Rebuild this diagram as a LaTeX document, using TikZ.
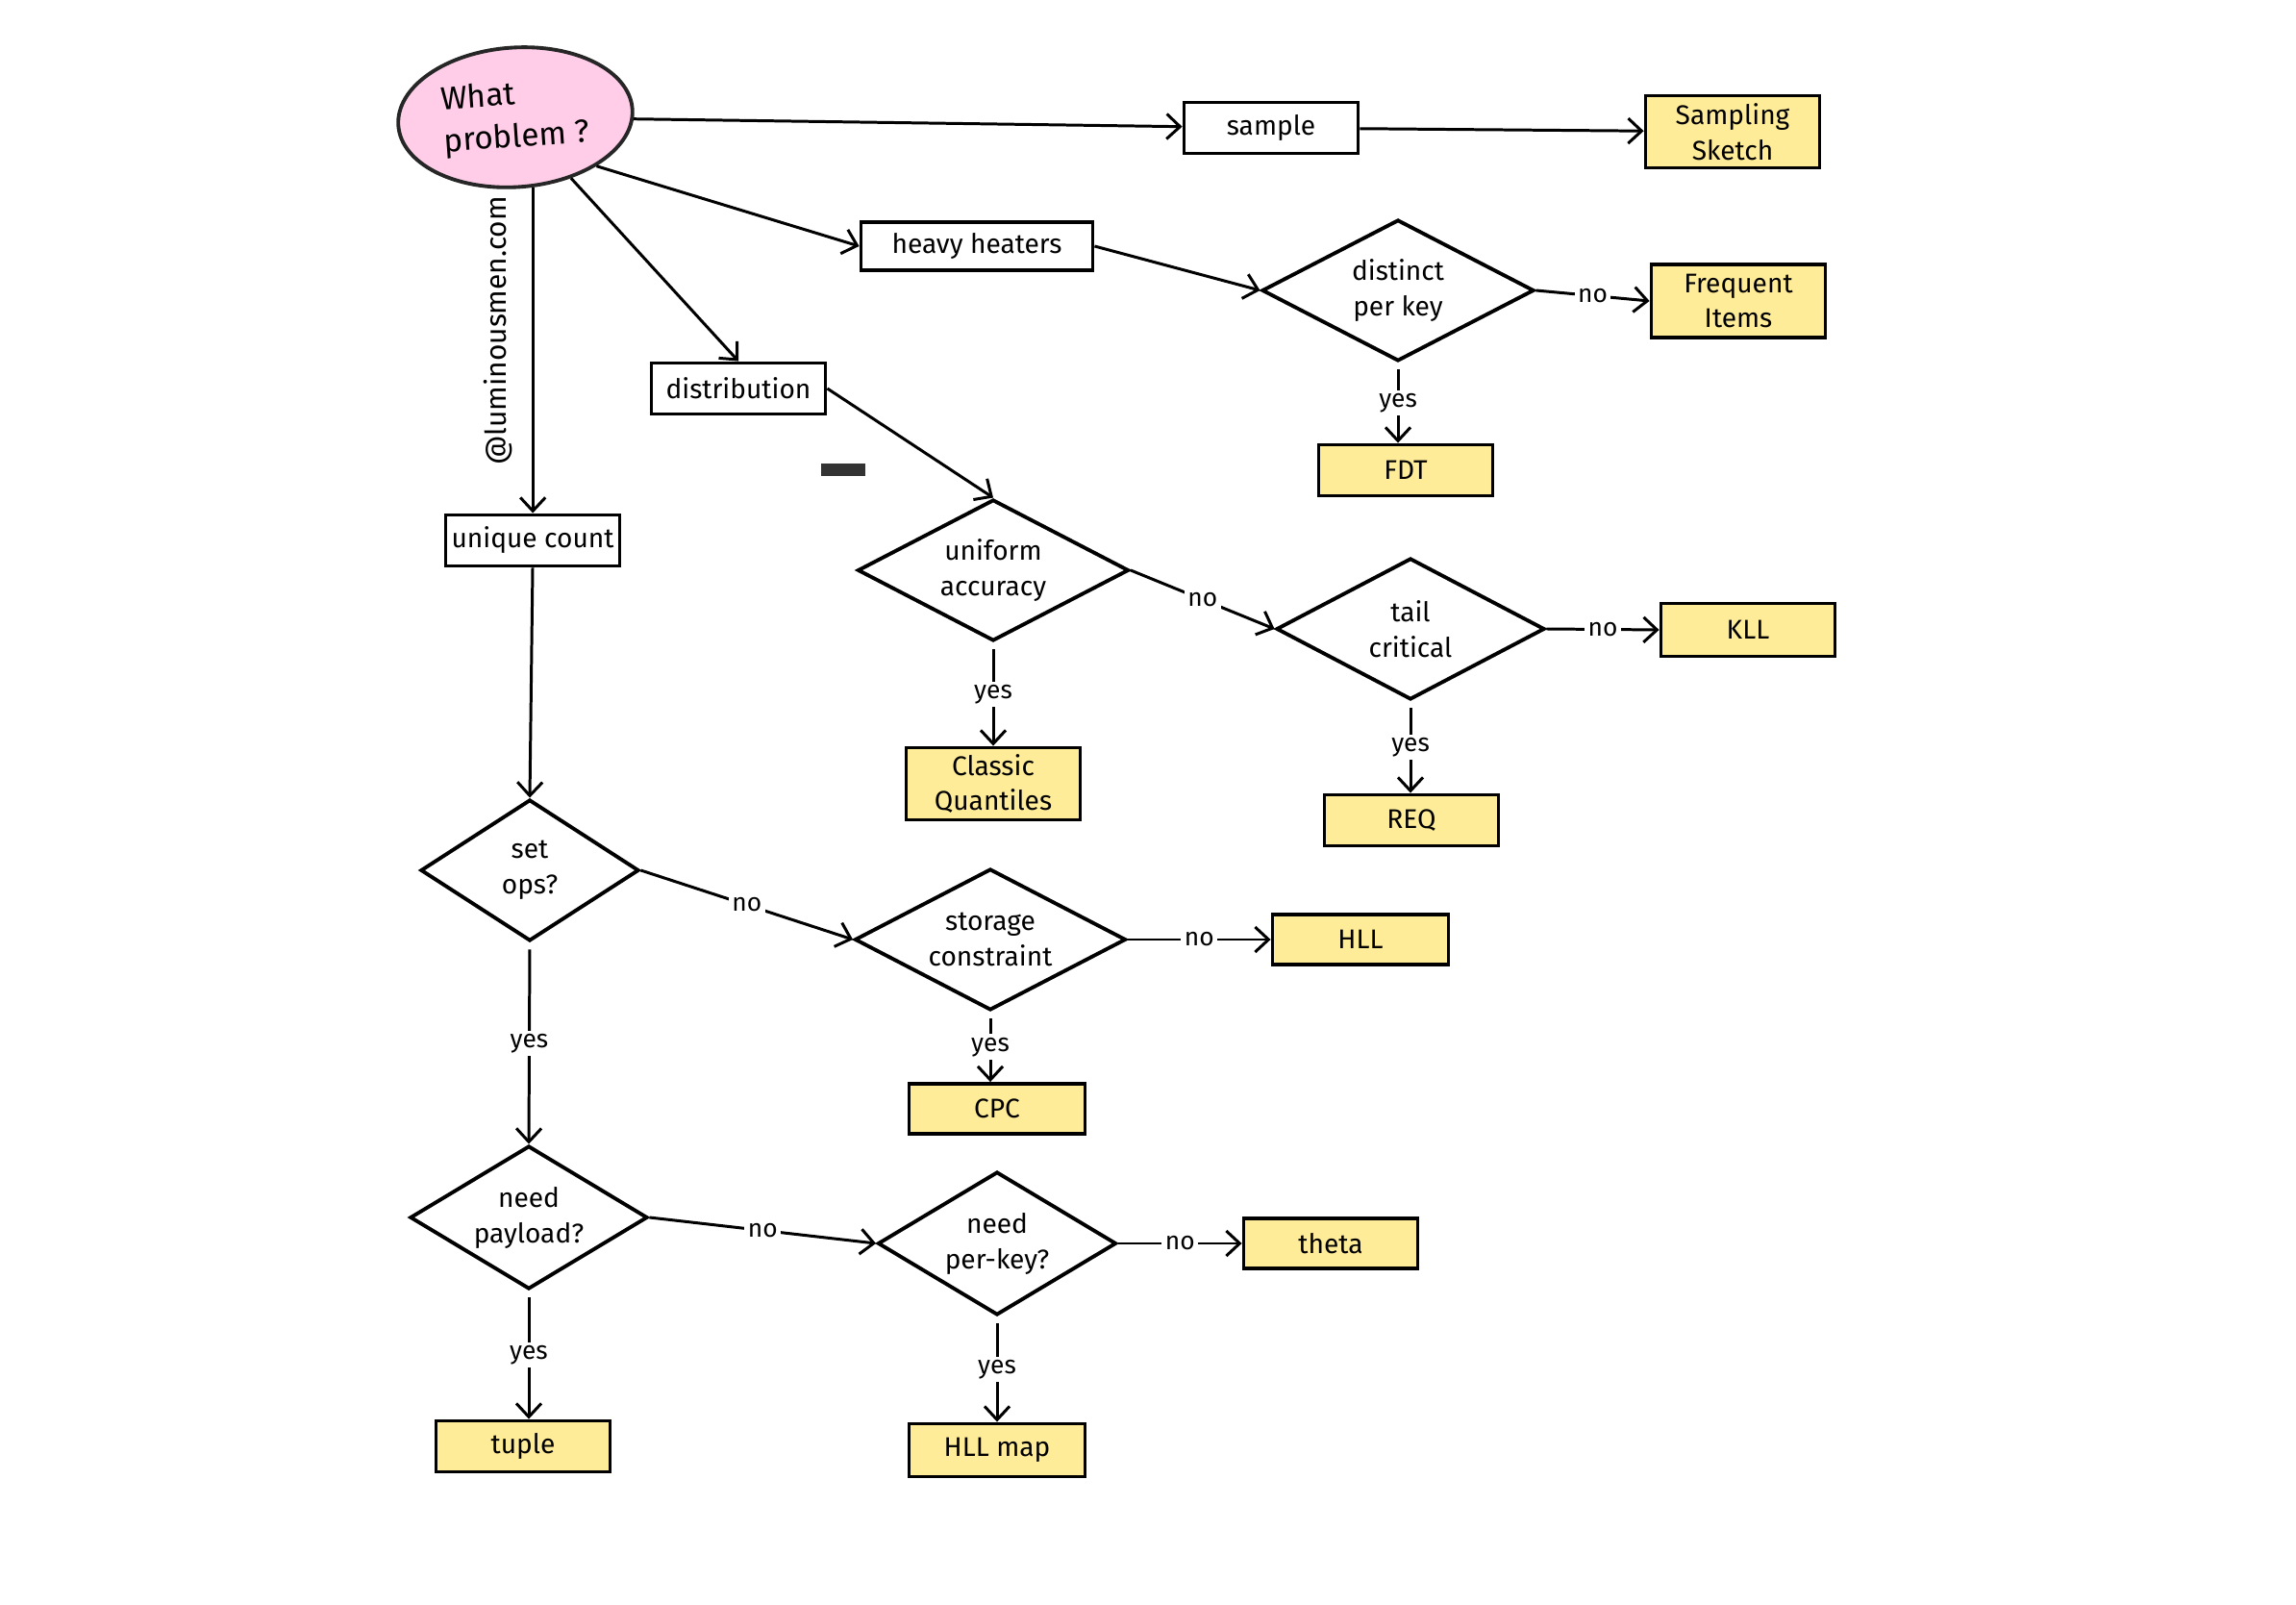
\documentclass[tikz,border=0pt]{standalone}
\usepackage{fontspec}
\setmainfont{Fira Sans}
\usepackage{tikz}
\usetikzlibrary{positioning,shapes.geometric,arrows.meta}

\definecolor{leafyellow}{HTML}{FFEC99}
\definecolor{startpink}{HTML}{FFCDE8}

\begin{document}
\begin{tikzpicture}[scale=1,
        box/.style={draw, line width=1.1pt, fill=white, minimum width=1.81cm, minimum height=0.53cm, inner sep=1pt, align=center, font=\fontsize{8}{10.5}\selectfont},
        leaf/.style={box, fill=leafyellow},
        choice/.style={diamond, draw, line width=1.1pt, fill=white, aspect=2, inner sep=0pt, minimum width=2.82cm, minimum height=1.47cm, align=center, font=\fontsize{8}{10.5}\selectfont},
        arr/.style={-{Straight Barb[length=1.4mm,width=2.6mm]}, line width=0.85pt},
        lbl/.style={fill=white, inner sep=1pt, font=\fontsize{7.5}{9}\selectfont}]

        \useasboundingbox (0,0) rectangle (23.88,16.68);

        \node (problem) [ellipse, draw=black!85, line width=1.1pt, fill=startpink, inner sep=0pt, minimum width=2.44cm, minimum height=1.45cm, rotate=4, align=left, font=\fontsize{9.5}{12.5}\selectfont] at (5.36,15.46) {What\\problem ?};
        \node (credit) [rotate=90, font=\fontsize{8.5}{10}\selectfont] at (5.18,13.24) {@luminousmen.com};

        \node (sample) [box] at (13.22,15.35) {sample};
        \node (sketch) [leaf, minimum height=0.75cm] at (18.02,15.31) {Sampling\\Sketch};

        \node (heavy) [box, minimum width=2.41cm, minimum height=0.5cm] at (10.16,14.12) {heavy heaters};
        \node (distinct) [choice, minimum width=2.83cm] at (14.54,13.66) {distinct\\per key};
        \node (freq) [leaf, minimum height=0.76cm] at (18.08,13.55) {Frequent\\Items};
        \node (fdt) [leaf] at (14.62,11.79) {FDT};

        \node (distribution) [box] at (7.68,12.64) {distribution};
        \node (uniform) [choice] at (10.33,10.75) {uniform\\accuracy};
        \node (tail) [choice, minimum width=2.79cm] at (14.67,10.14) {tail\\critical};
        \node (kll) [leaf, minimum height=0.55cm] at (18.18,10.13) {KLL};
        \node (classic) [leaf, minimum height=0.75cm] at (10.33,8.53) {Classic\\Quantiles};
        \node (req) [leaf] at (14.68,8.15) {REQ};

        \node (unique) [box] at (5.54,11.06) {unique count};
        \node (setops) [choice, minimum width=2.27cm] at (5.51,7.63) {set\\ops?};
        \node (storage) [choice] at (10.30,6.91) {storage\\constraint};
        \node (hll) [leaf, minimum width=1.83cm, minimum height=0.52cm] at (14.15,6.91) {HLL};
        \node (cpc) [leaf, minimum width=1.83cm, minimum height=0.52cm] at (10.37,5.15) {CPC};
        \node (payload) [choice, minimum width=2.47cm, minimum height=1.49cm] at (5.50,4.02) {need\\payload?};
        \node (perkey) [choice, minimum width=2.48cm, minimum height=1.49cm] at (10.37,3.75) {need\\per-key?};
        \node (theta) [leaf, minimum height=0.52cm] at (13.84,3.75) {theta};
        \node (tuple) [leaf] at (5.44,1.64) {tuple};
        \node (hllmap) [leaf, minimum width=1.83cm, minimum height=0.55cm] at (10.37,1.60) {HLL map};

        % stray mark
        \path[fill=black!80] (8.54,11.73) rectangle (9.00,11.86);

        \path[draw, arr] (problem) -- (sample);
        \path[draw, arr] (sample) -- (sketch);
        \path[draw, arr] (problem.-35) -- (heavy.west);
        \path[draw, arr] (problem) -- (distribution.north);
        \path[draw, arr] (problem.-80) -- (problem.-80 |- unique.north);

        \path[draw, arr] (heavy.east) -- (distinct.west);
        \path[draw, arr] (distinct.east) -- node[lbl] {no} (freq.west);
        \path[draw, arr, shorten <=2pt] (distinct.south) -- node[lbl] {yes} (distinct.south |- fdt.north);

        \path[draw, arr] (distribution.east) -- (uniform.north);
        \path[draw, arr] (uniform.east) -- node[lbl] {no} (tail.west);
        \path[draw, arr, shorten <=2pt] (uniform.south) -- node[lbl] {yes} (uniform.south |- classic.north);
        \path[draw, arr] (tail.east) -- node[lbl] {no} (kll.west);
        \path[draw, arr, shorten <=2pt] (tail.south) -- node[lbl] {yes} (tail.south |- req.north);

        \path[draw, arr] (unique.south) -- (setops.north);
        \path[draw, arr] (setops.east) -- node[lbl] {no} (storage.west);
        \path[draw, arr, shorten <=2pt] (setops.south) -- node[lbl] {yes} (payload.north);
        \path[draw, arr] (storage.east) -- node[lbl] {no} (hll.west);
        \path[draw, arr, shorten <=2pt] (storage.south) -- node[lbl] {yes} (storage.south |- cpc.north);
        \path[draw, arr] (payload.east) -- node[lbl] {no} (perkey.west);
        \path[draw, arr, shorten <=2pt] (payload.south) -- node[lbl] {yes} (payload.south |- tuple.north);
        \path[draw, arr] (perkey.east) -- node[lbl] {no} (theta.west);
        \path[draw, arr, shorten <=2pt] (perkey.south) -- node[lbl] {yes} (hllmap.north);

    \end{tikzpicture}
\end{document}
